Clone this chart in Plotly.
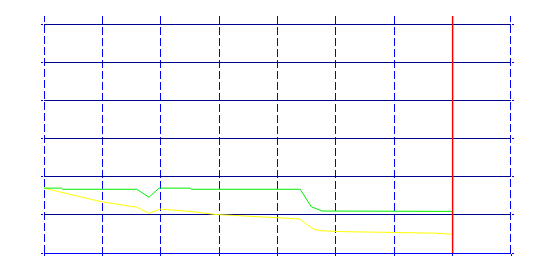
import plotly.graph_objects as go

# data values (x in axis units, y in axis units)
green_x = [0, 0.3, 0.32, 1.59, 1.8, 1.97, 2.5, 2.52, 4.39, 4.58, 4.77, 7.0]
green_y = [1.70, 1.70, 1.67, 1.67, 1.46, 1.70, 1.70, 1.67, 1.67, 1.21, 1.10, 1.09]

yellow_x = [0, 0.96, 1.59, 1.8, 1.99, 2.5, 2.93, 3.36, 3.7, 4.3, 4.38, 4.61, 4.76, 5.1, 5.89, 6.7, 7.0]
yellow_y = [1.70, 1.35, 1.20, 1.04, 1.15, 1.09, 1.01, 0.98, 0.96, 0.90, 0.89, 0.63, 0.58, 0.56, 0.54, 0.52, 0.49]

marker_x = 7
x_range = [0, 8]
y_range = [0, 6.21]

vgrid_color = "#0000FF"
hgrid_color = "#000090"
dash_style = "8px,3px"

W, H = 539, 270
ML, MR, MT, MB = 44, 28, 16, 17
half_px = 0.5 * (x_range[1] - x_range[0]) / (W - ML - MR)

fig = go.Figure()
fig.add_trace(go.Scatter(x=yellow_x, y=yellow_y, mode="lines",
                         line=dict(color="#FFFF00", width=1), showlegend=False))
fig.add_trace(go.Scatter(x=green_x, y=green_y, mode="lines",
                         line=dict(color="#00EE00", width=1), showlegend=False))

# dashed edge lines (Plotly omits gridlines at the range edges); nudge half a pixel inside
for xv, sgn in ((x_range[0], 1), (x_range[1], -1)):
    fig.add_shape(type="line", xref="x", yref="paper",
                  x0=xv + sgn * half_px, x1=xv + sgn * half_px, y0=0, y1=1,
                  line=dict(color=vgrid_color, width=1, dash=dash_style), layer="below")

fig.add_vline(x=marker_x, line=dict(color="#FF0000", width=1.5))

fig.update_layout(
    width=W, height=H,
    margin=dict(l=ML, r=MR, t=MT, b=MB),
    paper_bgcolor="white", plot_bgcolor="white",
    showlegend=False,
    xaxis=dict(range=x_range, dtick=1, tick0=0, showgrid=True,
               gridcolor=vgrid_color, griddash=dash_style, gridwidth=1,
               ticks="outside", ticklen=2, tickcolor=vgrid_color,
               showticklabels=False, zeroline=False,
               showline=True, linecolor=vgrid_color, linewidth=1),
    yaxis=dict(range=y_range, dtick=1, tick0=0, showgrid=True,
               gridcolor=hgrid_color, gridwidth=1,
               ticks="outside", ticklen=2, tickcolor=vgrid_color,
               mirror="ticks",
               showticklabels=False, zeroline=False, showline=False),
)

fig.write_html("out.html")
